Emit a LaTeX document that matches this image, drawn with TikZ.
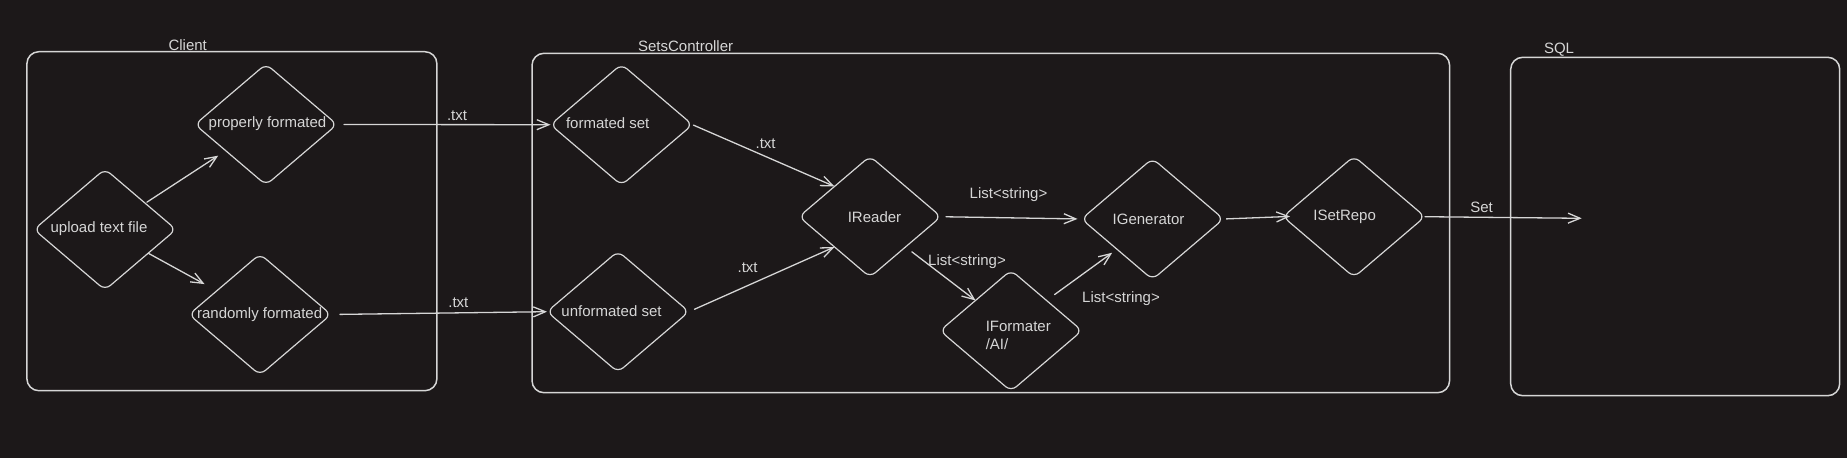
\documentclass[tikz,border=0pt]{standalone}
\usepackage{fontspec}
\setmainfont{Liberation Sans}
\usetikzlibrary{shapes.geometric,arrows.meta}
\definecolor{bg}{HTML}{1C1819}
\definecolor{ink}{HTML}{D6D6D6}
\begin{document}
\begin{tikzpicture}[x=1pt,y=-1pt,
  frame/.style={draw=ink,line width=1.5pt,rounded corners=12pt,inner sep=0pt,outer sep=0pt,anchor=north west},
  dia/.style={draw=ink,line width=1.2pt,shape=diamond,minimum width=142pt,minimum height=121pt,inner sep=0pt,outer sep=0pt,rounded corners=7pt},
  txt/.style={text=ink,font=\fontsize{15}{18}\selectfont,inner sep=0pt},
  conn/.style={draw=ink,line width=1.3pt,line cap=round,-{Straight Barb[length=12pt,width=10pt]}},
]
\fill[bg] (0,0) rectangle (1847,458);
\useasboundingbox (0,0) rectangle (1847,458);

% frames
\node[frame,minimum width=410pt,minimum height=339pt] (client) at (26.9,51.7) {};
\node[frame,minimum width=917.6pt,minimum height=339.4pt] (ctrl) at (532,53.3) {};
\node[frame,minimum width=329pt,minimum height=338.4pt] (sql) at (1510.7,57.3) {};
\node[txt] (clientl) at (187.7,45) {Client};
\node[txt] (ctrll) at (685.6,46) {SetsController};
\node[txt] (sqll) at (1559,49.5) {SQL};

% diamonds
\node[dia] (up) at (105,229.5) {};
\node[dia] (prop) at (266,124.5) {};
\node[dia] (rand) at (260,314.5) {};
\node[dia] (fs) at (621.5,124.7) {};
\node[dia] (unf) at (618,311.7) {};
\node[dia] (ir) at (870,216.7) {};
\node[dia] (ig) at (1152.5,219) {};
\node[dia] (ifo) at (1011,330.7) {};
\node[dia] (isr) at (1354,216.7) {};

% diamond texts
\node[txt] (upt) at (99,229) {upload text file};
\node[txt] (propt) at (267.5,123.5) {properly formated};
\node[txt] (randt) at (259.6,315) {randomly formated};
\node[txt] (fst) at (607.7,123.5) {formated set};
\node[txt] (unft) at (611.5,311) {unformated set};
\node[txt] (irt) at (874.5,217) {IReader};
\node[txt] (igt) at (1148.5,219) {IGenerator};
\node[txt] (isrt) at (1344.6,217) {ISetRepo};
\node[txt,anchor=west] (ifot) at (985.6,326) {IFormater};
\node[txt,anchor=west] (ifot2) at (985.6,344) {/AI/};

% connectors
\draw[conn,shorten <=2pt,shorten >=9pt] (up) -- (prop);
\draw[conn,shorten >=14pt] (up) -- (rand);
\draw[conn,shorten <=7pt] (prop.east) -- (fs.west);
\draw[conn,shorten <=9pt] (rand.east) -- (unf.west);
\draw[conn,shorten <=1pt] (fs.east) -- (ir.north west);
\draw[conn,shorten <=6pt] (unf.east) -- (ir.south west);
\draw[conn,shorten <=5pt,shorten >=4pt] (ir.east) -- (ig.west);
\draw[conn,shorten <=8pt] (ir.south east) -- (ifo.north west);
\draw[conn,shorten <=10pt,shorten >=6pt] (ifo.north east) -- (ig.south west);
\draw[conn,shorten <=3pt,shorten >=-7pt] (ig.east) -- (isr.west);
\coordinate (sqlin) at (1581.7,218.3);
\draw[conn] (isr.east) -- (sqlin);

% connector labels
\node[txt] (l1) at (457,116) {.txt};
\node[txt] (l2) at (458.4,302.5) {.txt};
\node[txt] (l3) at (765.6,143.5) {.txt};
\node[txt] (l4) at (747.6,267.5) {.txt};
\node[txt] (l5) at (1008.5,195) {List<string>};
\node[txt] (l6) at (967,262) {List<string>};
\node[txt] (l7) at (1121,298.5) {List<string>};
\node[txt] (l8) at (1481.6,207.5) {Set};
\end{tikzpicture}
\end{document}
